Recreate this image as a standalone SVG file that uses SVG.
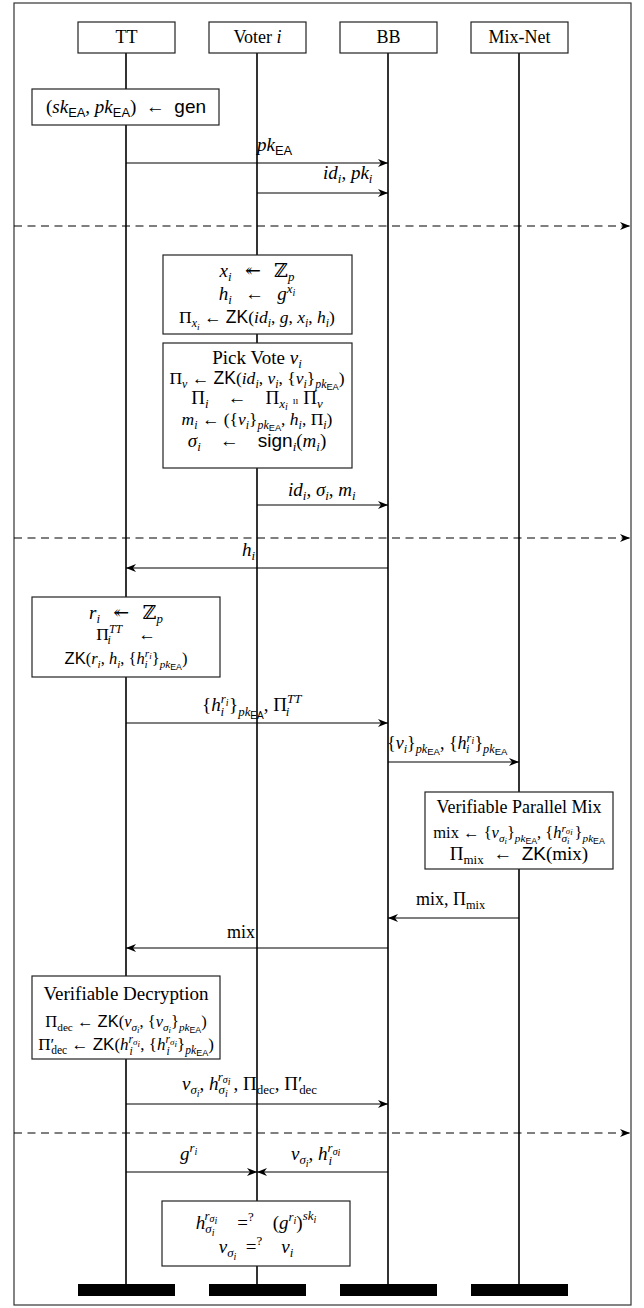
<svg xmlns="http://www.w3.org/2000/svg" width="644" height="1308" viewBox="0 0 644 1308">
<style>
text{font-family:"Liberation Serif","DejaVu Serif",serif;font-size:19px;fill:#000}
.i{font-style:italic}
.sf{font-family:"Liberation Sans","DejaVu Sans",sans-serif;font-style:normal}
.c{text-anchor:middle}
.e{text-anchor:end}
.sb{font-size:0.68em}
.ss{font-size:0.53em}
.f18{font-size:18px}
.f17{font-size:17.5px}
.f17b{font-size:17px}
.f16{font-size:16.5px}
.box{fill:#fff;stroke:#222;stroke-width:1.2}
.life{stroke:#000;stroke-width:1.6}
.msg{stroke:#000;stroke-width:1.2;fill:none;marker-end:url(#ah)}
.sep{stroke:#000;stroke-width:1.2;fill:none;stroke-dasharray:8 5.5;marker-end:url(#ah)}
.bar{fill:#000}
</style>
<defs>
<marker id="ah" markerWidth="10" markerHeight="8" refX="10" refY="4" orient="auto" markerUnits="userSpaceOnUse"><path d="M0,0 L10,4 L0,8 L3,4 z" fill="#000"/></marker>
</defs>
<rect x="14" y="3" width="617" height="1302" fill="#fff" stroke="#333" stroke-width="1.2"/>
<g id="lifelines">
<line class="life" x1="126" y1="53" x2="126" y2="1284"/>
<line class="life" x1="257" y1="53" x2="257" y2="1284"/>
<line class="life" x1="388" y1="53" x2="388" y2="1284"/>
<line class="life" x1="519" y1="53" x2="519" y2="1284"/>
</g>
<g id="separators">
<line class="sep" x1="14" y1="226" x2="630" y2="226"/>
<line class="sep" x1="14" y1="538" x2="630" y2="538"/>
<line class="sep" x1="14" y1="1133" x2="630" y2="1133"/>
</g>
<g id="TT"><rect class="box" x="78" y="22" width="97" height="31"/><text x="126.5" y="43" class="c f18">TT</text><rect class="bar" x="78" y="1284" width="97" height="12"/></g>
<g id="Voter"><rect class="box" x="209" y="22" width="97" height="31"/><text x="257.5" y="43" class="c f18">Voter <tspan class="i">i</tspan></text><rect class="bar" x="209" y="1284" width="97" height="12"/></g>
<g id="BB"><rect class="box" x="340" y="22" width="97" height="31"/><text x="388.5" y="43" class="c f18">BB</text><rect class="bar" x="340" y="1284" width="97" height="12"/></g>
<g id="MixNet"><rect class="box" x="471" y="22" width="97" height="31"/><text x="519.5" y="43" class="c f18">Mix-Net</text><rect class="bar" x="471" y="1284" width="97" height="12"/></g>

<g id="gen"><rect class="box" x="32" y="89" width="187" height="36"/>
<text x="126" y="113" class="c">(<tspan class="i">sk</tspan><tspan class="sf sb" dy="4">EA</tspan><tspan dy="-4">, </tspan><tspan class="i">pk</tspan><tspan class="sf sb" dy="4">EA</tspan><tspan dy="-4">)&#8194;←&#8194;</tspan><tspan class="sf">gen</tspan></text>
</g>

<g id="keygen"><rect class="box" x="163" y="255" width="189" height="79"/>
<text x="257" y="277" class="c"><tspan class="i">x</tspan><tspan class="i sb" dy="4">i</tspan><tspan dy="-4">&#8194;&#8201;↞&#8194;&#8201;ℤ</tspan><tspan class="i sb" dy="4">p</tspan></text>
<text x="257" y="300" class="c"><tspan class="i">h</tspan><tspan class="i sb" dy="4">i</tspan><tspan dy="-4">&#8194;&#8201;←&#8194;&#8201;</tspan><tspan class="i">g</tspan><tspan class="i sb" dy="-7">x</tspan><tspan class="i ss" dy="2.5">i</tspan></text>
<text x="257" y="323" class="c f17">Π<tspan class="i sb" dy="4">x</tspan><tspan class="i ss" dy="2.5">i</tspan><tspan dy="-6.5"> ← </tspan><tspan class="sf">ZK</tspan>(<tspan class="i">id</tspan><tspan class="i sb" dy="4">i</tspan><tspan dy="-4">, </tspan><tspan class="i">g</tspan>, <tspan class="i">x</tspan><tspan class="i sb" dy="4">i</tspan><tspan dy="-4">, </tspan><tspan class="i">h</tspan><tspan class="i sb" dy="4">i</tspan><tspan dy="-4">)</tspan></text>
</g>

<g id="vote"><rect class="box" x="163" y="343" width="189" height="125"/>
<text x="257" y="364" class="c">Pick Vote <tspan class="i">v</tspan><tspan class="i sb" dy="4">i</tspan></text>
<text x="257" y="384" class="c f17">Π<tspan class="i sb" dy="3.5">v</tspan><tspan dy="-3.5"> ← </tspan><tspan class="sf">ZK</tspan>(<tspan class="i">id</tspan><tspan class="i sb" dy="3.5">i</tspan><tspan dy="-3.5">, </tspan><tspan class="i">v</tspan><tspan class="i sb" dy="3.5">i</tspan><tspan dy="-3.5">, {</tspan><tspan class="i">v</tspan><tspan class="i sb" dy="3.5">i</tspan><tspan dy="-3.5">}</tspan><tspan class="i sb" dy="3.5">pk</tspan><tspan class="sf ss" dy="2">EA</tspan><tspan dy="-5.5">)</tspan></text>
<text x="257" y="404" class="c">Π<tspan class="i sb" dy="4">i</tspan><tspan dy="-4">&#8195;←&#8195;Π</tspan><tspan class="i sb" dy="4">x</tspan><tspan class="i ss" dy="2">i</tspan><tspan dy="-6" font-size="10">&#8194;ıı&#8194;</tspan><tspan>Π</tspan><tspan class="i sb" dy="4">v</tspan></text>
<text x="257" y="425" class="c f17"><tspan class="i">m</tspan><tspan class="i sb" dy="4">i</tspan><tspan dy="-4"> ← ({</tspan><tspan class="i">v</tspan><tspan class="i sb" dy="4">i</tspan><tspan dy="-4">}</tspan><tspan class="i sb" dy="4">pk</tspan><tspan class="sf ss" dy="2">EA</tspan><tspan dy="-6">, </tspan><tspan class="i">h</tspan><tspan class="i sb" dy="4">i</tspan><tspan dy="-4">, Π</tspan><tspan class="i sb" dy="4">i</tspan><tspan dy="-4">)</tspan></text>
<text x="257" y="447" class="c"><tspan class="i">σ</tspan><tspan class="i sb" dy="4">i</tspan><tspan dy="-4">&#8195;←&#8195;</tspan><tspan class="sf">sign</tspan><tspan class="i sb" dy="4">i</tspan><tspan dy="-4">(</tspan><tspan class="i">m</tspan><tspan class="i sb" dy="4">i</tspan><tspan dy="-4">)</tspan></text>
</g>

<g id="ttrand"><rect class="box" x="32" y="597" width="188" height="80"/>
<text x="126" y="619" class="c"><tspan class="i">r</tspan><tspan class="i sb" dy="4">i</tspan><tspan dy="-4">&#8194;&#8201;↞&#8194;&#8201;ℤ</tspan><tspan class="i sb" dy="4">p</tspan></text>
<text x="126" y="640" class="c f17">Π<tspan class="i sb" dy="-7">TT</tspan><tspan class="i sb" dx="-14" dy="11">i</tspan><tspan dx="10" dy="-4">&#8195;←</tspan></text>
<text x="126" y="664" class="c f16"><tspan class="sf">ZK</tspan>(<tspan class="i">r</tspan><tspan class="i sb" dy="4">i</tspan><tspan dy="-4">, </tspan><tspan class="i">h</tspan><tspan class="i sb" dy="4">i</tspan><tspan dy="-4">, {</tspan><tspan class="i">h</tspan><tspan class="i sb" dy="-7">r</tspan><tspan class="i ss" dy="2">i</tspan><tspan class="i sb" dx="-7" dy="9">i</tspan><tspan dx="4" dy="-4">}</tspan><tspan class="i sb" dy="4">pk</tspan><tspan class="sf ss" dy="2">EA</tspan><tspan dy="-6">)</tspan></text>
</g>

<g id="mix"><rect class="box" x="425" y="792" width="188" height="77"/>
<text x="519" y="813" class="c f18">Verifiable Parallel Mix</text>
<text x="519" y="838" class="c f16">mix ← {<tspan class="i">v</tspan><tspan class="i sb" dy="3.5">σ</tspan><tspan class="i ss" dy="2">i</tspan><tspan dy="-5.5">}</tspan><tspan class="i sb" dy="3.5">pk</tspan><tspan class="sf ss" dy="2">EA</tspan><tspan dy="-5.5">, {</tspan><tspan class="i">h</tspan><tspan class="i sb" dy="3.5">σ</tspan><tspan class="i ss" dy="2">i</tspan><tspan class="i sb" dx="-8" dy="-12">r</tspan><tspan class="i ss" dy="2">σ</tspan><tspan class="i ss" dy="1">i</tspan><tspan dx="2" dy="3.5">}</tspan><tspan class="i sb" dy="3.5">pk</tspan><tspan class="sf ss" dy="2">EA</tspan></text>
<text x="519" y="860" class="c">Π<tspan class="sb" dy="4">mix</tspan><tspan dy="-4">&#8194;←&#8194;</tspan><tspan class="sf">ZK</tspan>(mix)</text>
</g>

<g id="decrypt"><rect class="box" x="32" y="976" width="188" height="83"/>
<text x="126" y="1000" class="c">Verifiable Decryption</text>
<text x="126" y="1027" class="c f16">Π<tspan class="sb" dy="3.5">dec</tspan><tspan dy="-3.5"> ← </tspan><tspan class="sf">ZK</tspan>(<tspan class="i">v</tspan><tspan class="i sb" dy="3.5">σ</tspan><tspan class="i ss" dy="2">i</tspan><tspan dy="-5.5">, {</tspan><tspan class="i">v</tspan><tspan class="i sb" dy="3.5">σ</tspan><tspan class="i ss" dy="2">i</tspan><tspan dy="-5.5">}</tspan><tspan class="i sb" dy="3.5">pk</tspan><tspan class="sf ss" dy="2">EA</tspan><tspan dy="-5.5">)</tspan></text>
<text x="126" y="1050" class="c f17b">Π′<tspan class="sb" dx="-3" dy="3.5">dec</tspan><tspan dy="-3.5"> ← </tspan><tspan class="sf">ZK</tspan>(<tspan class="i">h</tspan><tspan class="i sb" dy="-7">r</tspan><tspan class="i ss" dy="2">σ</tspan><tspan class="i ss" dy="1.5">i</tspan><tspan class="i sb" dx="-10.5" dy="8.5">i</tspan><tspan dx="7.5" dy="-5">, {</tspan><tspan class="i">h</tspan><tspan class="i sb" dy="-7">r</tspan><tspan class="i ss" dy="2">σ</tspan><tspan class="i ss" dy="1.5">i</tspan><tspan class="i sb" dx="-10.5" dy="8.5">i</tspan><tspan dx="7.5" dy="-5">}</tspan><tspan class="i sb" dy="3.5">pk</tspan><tspan class="sf ss" dy="2">EA</tspan><tspan dy="-5.5">)</tspan></text>
</g>

<g id="verify"><rect class="box" x="162" y="1201" width="188" height="65"/>
<text x="256" y="1229" class="c"><tspan class="i">h</tspan><tspan class="i sb" dy="4">σ</tspan><tspan class="i ss" dy="2.5">i</tspan><tspan class="i sb" dx="-10" dy="-16">r</tspan><tspan class="i ss" dy="2.5">σ</tspan><tspan class="i ss" dy="1.5">i</tspan><tspan dx="1" dy="5.5">&#8195;=</tspan><tspan class="sb" dy="-8">?</tspan><tspan dy="8">&#8195;(</tspan><tspan class="i">g</tspan><tspan class="i sb" dy="-8">r</tspan><tspan class="i ss" dy="2.5">i</tspan><tspan dy="5.5">)</tspan><tspan class="i sb" dy="-9">sk</tspan><tspan class="i ss" dy="2.5">i</tspan></text>
<text x="256" y="1253" class="c"><tspan class="i">v</tspan><tspan class="i sb" dy="4">σ</tspan><tspan class="i ss" dy="2.5">i</tspan><tspan dy="-6.5">&#8194;=</tspan><tspan class="sb" dy="-8">?</tspan><tspan dy="8">&#8194;&#8194;</tspan><tspan class="i">v</tspan><tspan class="i sb" dy="4">i</tspan></text>
</g>

<g id="connectors">
<line class="msg" x1="126" y1="163" x2="388" y2="163"/>
<line class="msg" x1="257" y1="193" x2="388" y2="193"/>
<line class="msg" x1="257" y1="505" x2="388" y2="505"/>
<line class="msg" x1="388" y1="568" x2="126" y2="568"/>
<line class="msg" x1="126" y1="723" x2="388" y2="723"/>
<line class="msg" x1="388" y1="762" x2="519" y2="762"/>
<line class="msg" x1="519" y1="918" x2="388" y2="918"/>
<line class="msg" x1="388" y1="948" x2="126" y2="948"/>
<line class="msg" x1="126" y1="1104" x2="388" y2="1104"/>
<line class="msg" x1="126" y1="1172" x2="257" y2="1172"/>
<line class="msg" x1="388" y1="1172" x2="257" y2="1172"/>

<text x="257" y="151"><tspan class="i">pk</tspan><tspan class="sf sb" dy="4">EA</tspan></text>
<text x="323" y="179"><tspan class="i">id</tspan><tspan class="i sb" dy="4">i</tspan><tspan dy="-4">, </tspan><tspan class="i">pk</tspan><tspan class="i sb" dy="4">i</tspan></text>
<text x="288" y="496"><tspan class="i">id</tspan><tspan class="i sb" dy="4">i</tspan><tspan dy="-4">, </tspan><tspan class="i">σ</tspan><tspan class="i sb" dy="4">i</tspan><tspan dy="-4">, </tspan><tspan class="i">m</tspan><tspan class="i sb" dy="4">i</tspan></text>
<text x="255" y="556" class="e"><tspan class="i">h</tspan><tspan class="i sb" dy="4">i</tspan></text>
<text x="202" y="711">{<tspan class="i">h</tspan><tspan class="i sb" dy="-8">r</tspan><tspan class="i ss" dy="2.5">i</tspan><tspan class="i sb" dx="-8" dy="10.5">i</tspan><tspan dx="5" dy="-5">}</tspan><tspan class="i sb" dy="5">pk</tspan><tspan class="sf ss" dy="2.5">EA</tspan><tspan dy="-7.5">, Π</tspan><tspan class="i sb" dy="-8">TT</tspan><tspan class="i sb" dx="-15" dy="13">i</tspan></text>
<text x="387" y="749" class="f18">{<tspan class="i">v</tspan><tspan class="i sb" dy="4">i</tspan><tspan dy="-4">}</tspan><tspan class="i sb" dy="4">pk</tspan><tspan class="sf ss" dy="2">EA</tspan><tspan dy="-6">, {</tspan><tspan class="i">h</tspan><tspan class="i sb" dy="-7">r</tspan><tspan class="i ss" dy="2">i</tspan><tspan class="i sb" dx="-8" dy="9">i</tspan><tspan dx="5" dy="-4">}</tspan><tspan class="i sb" dy="4">pk</tspan><tspan class="sf ss" dy="2">EA</tspan></text>
<text x="416" y="905" class="f18">mix, Π<tspan class="sb" dy="4">mix</tspan></text>
<text x="255" y="938" class="e f18">mix</text>
<text x="182" y="1090"><tspan class="i">v</tspan><tspan class="i sb" dy="4">σ</tspan><tspan class="i ss" dy="2.5">i</tspan><tspan dy="-6.5">, </tspan><tspan class="i">h</tspan><tspan class="i sb" dy="4">σ</tspan><tspan class="i ss" dy="2.5">i</tspan><tspan class="i sb" dx="-10" dy="-16">r</tspan><tspan class="i ss" dy="2.5">σ</tspan><tspan class="i ss" dy="1.5">i</tspan><tspan dx="3" dy="5.5">, Π</tspan><tspan class="sb" dy="4">dec</tspan><tspan dy="-4">, Π′</tspan><tspan class="sb" dx="-3" dy="4">dec</tspan></text>
<text x="180" y="1160"><tspan class="i">g</tspan><tspan class="i sb" dy="-8">r</tspan><tspan class="i ss" dy="2.5">i</tspan></text>
<text x="291" y="1160"><tspan class="i">v</tspan><tspan class="i sb" dy="4">σ</tspan><tspan class="i ss" dy="2.5">i</tspan><tspan dy="-6.5">, </tspan><tspan class="i">h</tspan><tspan class="i sb" dy="-8">r</tspan><tspan class="i ss" dy="2.5">σ</tspan><tspan class="i ss" dy="1.5">i</tspan><tspan class="i sb" dx="-12" dy="9">i</tspan></text>
</g>
</svg>
